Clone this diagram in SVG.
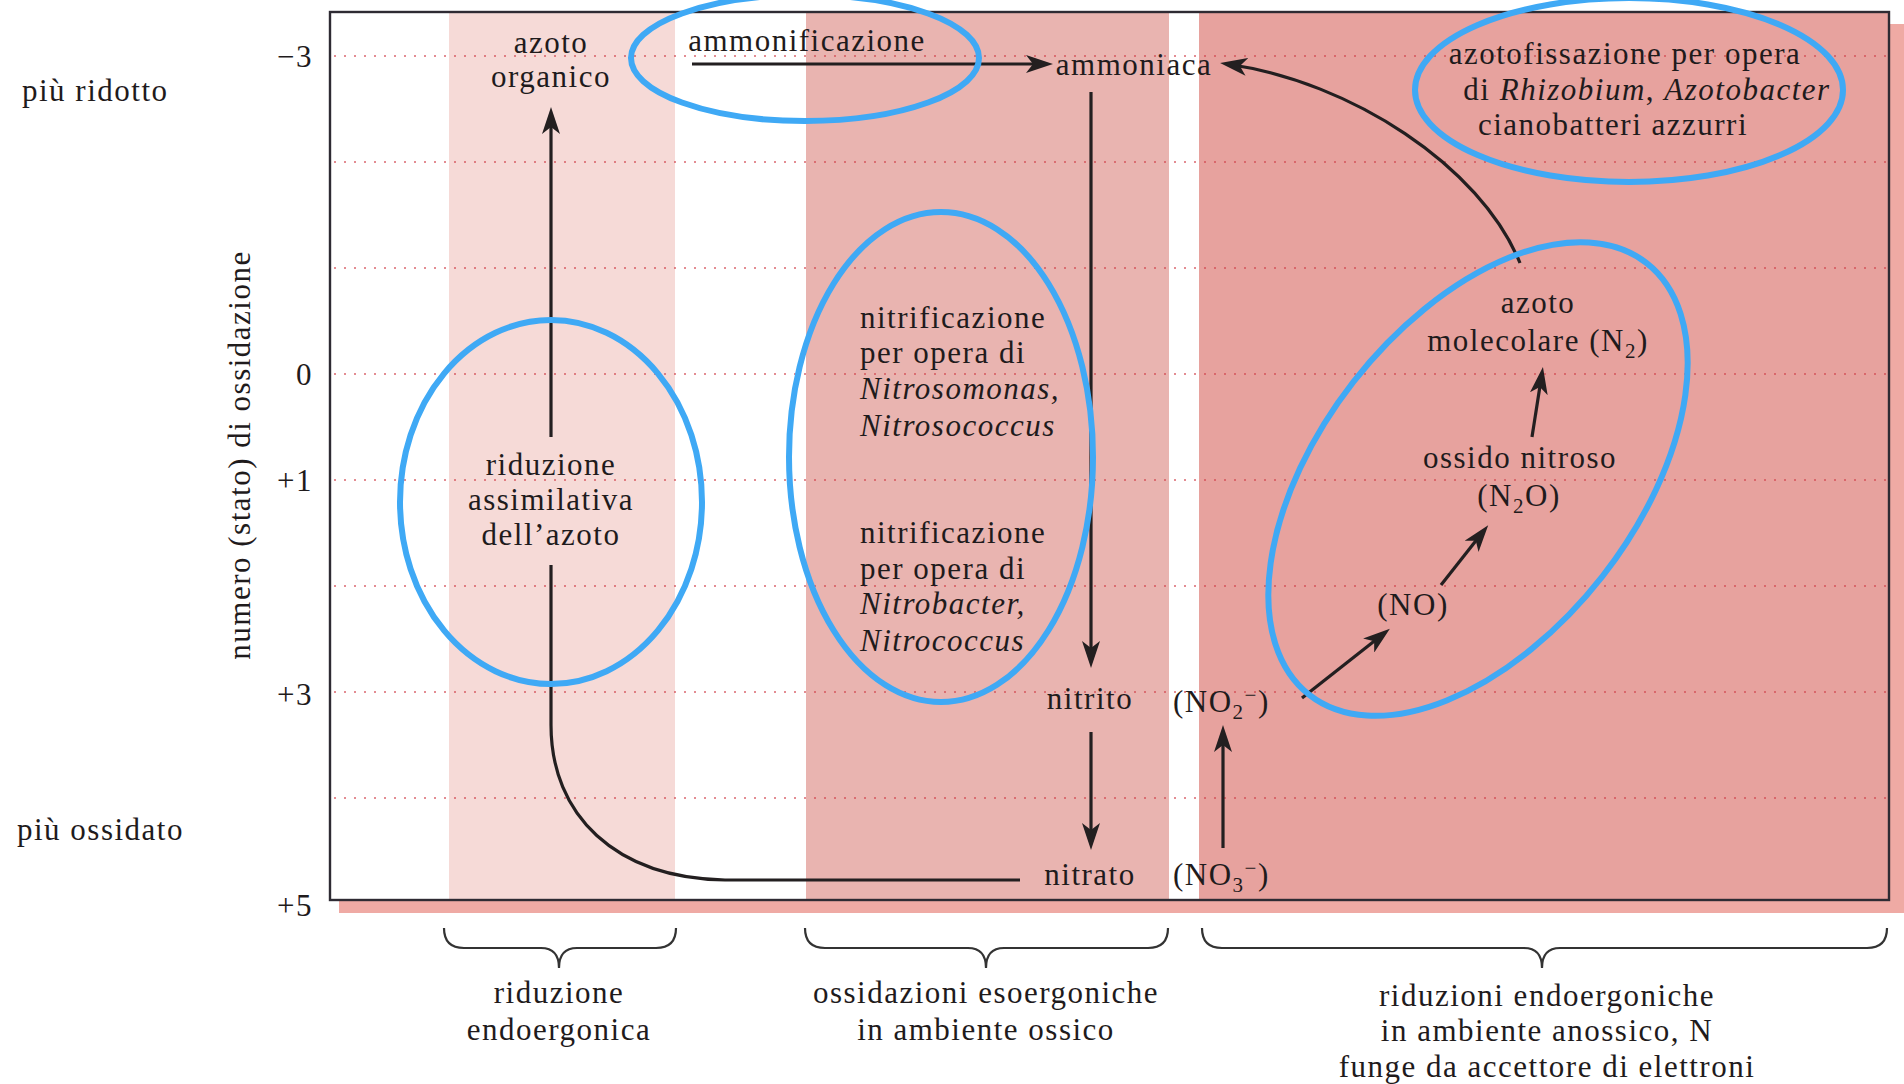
<svg xmlns="http://www.w3.org/2000/svg" width="1904" height="1084" viewBox="0 0 1904 1084">
  <defs>
    <style>
      text { font-family: "Liberation Serif", "Times New Roman", serif; font-size: 31px; letter-spacing: 1.5px; fill: #1f1b1c; }
      .c { text-anchor: middle; }
      .e { text-anchor: end; }
      .it { font-style: italic; }
      .sub { font-size: 21px; }
      .grid { stroke: #d0404a; stroke-width: 2; stroke-dasharray: 2 8; opacity: 0.6; fill: none; }
      .flow { stroke: #231f20; stroke-width: 3.2; fill: none; }
      .brace { stroke: #333; stroke-width: 2.2; fill: none; }
      .ring { stroke: #3fa9f5; stroke-width: 6; fill: none; }
    </style>
    <marker id="head" viewBox="0 0 27 18" refX="17" refY="9" markerWidth="27" markerHeight="18" markerUnits="userSpaceOnUse" orient="auto">
      <path d="M0,0 L27,9 L0,18 L7,9 Z" fill="#231f20"/>
    </marker>
  </defs>

  <rect width="1904" height="1084" fill="#ffffff"/>

  <!-- panel shadow -->
  <rect x="339" y="24" width="1565" height="889" fill="#efaaa4"/>
  <rect x="330" y="12" width="1559" height="888" fill="#ffffff"/>

  <!-- background bands -->
  <g id="bands">
    <rect x="449" y="12" width="226" height="888" fill="#f6dad7"/>
    <rect x="806" y="12" width="363" height="888" fill="#e9b4b0"/>
    <rect x="1199" y="12" width="690" height="888" fill="#e7a29e"/>
  </g>

  <!-- oxidation state grid -->
  <g id="grid">
    <line class="grid" x1="334" y1="56" x2="1886" y2="56"/>
    <line class="grid" x1="334" y1="162" x2="1886" y2="162"/>
    <line class="grid" x1="334" y1="268" x2="1886" y2="268"/>
    <line class="grid" x1="334" y1="374" x2="1886" y2="374"/>
    <line class="grid" x1="334" y1="480" x2="1886" y2="480"/>
    <line class="grid" x1="334" y1="586" x2="1886" y2="586"/>
    <line class="grid" x1="334" y1="692" x2="1886" y2="692"/>
    <line class="grid" x1="334" y1="798" x2="1886" y2="798"/>
  </g>

  <!-- frame -->
  <rect x="330" y="12" width="1559" height="888" fill="none" stroke="#2e2b33" stroke-width="2.4"/>

  <!-- axis -->
  <g id="axis">
    <text class="e" x="313" y="67">−3</text>
    <text class="e" x="313" y="385">0</text>
    <text class="e" x="313" y="491">+1</text>
    <text class="e" x="313" y="705">+3</text>
    <text class="e" x="313" y="916">+5</text>
    <text x="22" y="101">più ridotto</text>
    <text x="17" y="840">più ossidato</text>
    <text class="c" transform="translate(250,455) rotate(-90)">numero (stato) di ossidazione</text>
  </g>

  <!-- connectors -->
  <g id="connectors">
    <path class="flow" d="M551 437 V117" marker-end="url(#head)"/>
    <path class="flow" d="M551 565 V725 C551 815 615 878 725 880 H1020"/>
    <path class="flow" d="M692 64 H1043" marker-end="url(#head)"/>
    <path class="flow" d="M1091 92 V658" marker-end="url(#head)"/>
    <path class="flow" d="M1091 732 V840" marker-end="url(#head)"/>
    <path class="flow" d="M1223 848 V735" marker-end="url(#head)"/>
    <path class="flow" d="M1302 698 L1382 635" marker-end="url(#head)"/>
    <path class="flow" d="M1441 585 L1482 533" marker-end="url(#head)"/>
    <path class="flow" d="M1532 437 L1541.4 377" marker-end="url(#head)"/>
    <path class="flow" d="M1520 263 C1480 165 1350 82 1230 64.5" marker-end="url(#head)"/>
  </g>

  <!-- nodes -->
  <g id="organic-n">
    <text class="c" x="551" y="53">azoto</text>
    <text class="c" x="551" y="87">organico</text>
  </g>
  <g id="ammonification">
    <text class="c" x="807" y="51">ammonificazione</text>
  </g>
  <g id="ammonia">
    <text class="c" x="1134" y="75">ammoniaca</text>
  </g>
  <g id="fixation">
    <text class="c" x="1625" y="64">azotofissazione per opera</text>
    <text class="c" x="1647" y="100">di <tspan class="it">Rhizobium</tspan>, <tspan class="it">Azotobacter</tspan></text>
    <text class="c" x="1613" y="135">cianobatteri azzurri</text>
  </g>
  <g id="nitrosation">
    <text x="860" y="328">nitrificazione</text>
    <text x="860" y="363">per opera di</text>
    <text class="it" x="860" y="399">Nitrosomonas,</text>
    <text class="it" x="860" y="436">Nitrosococcus</text>
  </g>
  <g id="nitratation">
    <text x="860" y="543">nitrificazione</text>
    <text x="860" y="579">per opera di</text>
    <text class="it" x="860" y="614">Nitrobacter,</text>
    <text class="it" x="860" y="651">Nitrococcus</text>
  </g>
  <g id="assimilation">
    <text class="c" x="551" y="475">riduzione</text>
    <text class="c" x="551" y="510">assimilativa</text>
    <text class="c" x="551" y="545">dell’azoto</text>
  </g>
  <g id="nitrite">
    <text class="c" x="1090" y="709">nitrito</text>
    <text x="1173" y="712">(NO<tspan class="sub" dy="7">2</tspan><tspan class="sub" dy="-17">−</tspan><tspan dy="10">)</tspan></text>
  </g>
  <g id="nitrate">
    <text class="c" x="1090" y="885">nitrato</text>
    <text x="1173" y="885">(NO<tspan class="sub" dy="7">3</tspan><tspan class="sub" dy="-17">−</tspan><tspan dy="10">)</tspan></text>
  </g>
  <g id="dinitrogen">
    <text class="c" x="1538" y="313">azoto</text>
    <text class="c" x="1538" y="351">molecolare (N<tspan class="sub" dy="7">2</tspan><tspan dy="-7">)</tspan></text>
  </g>
  <g id="nitrous-oxide">
    <text class="c" x="1520" y="468">ossido nitroso</text>
    <text class="c" x="1519" y="506">(N<tspan class="sub" dy="7">2</tspan><tspan dy="-7">O)</tspan></text>
  </g>
  <g id="nitric-oxide">
    <text class="c" x="1413" y="615">(NO)</text>
  </g>

  <!-- highlight rings -->
  <g id="rings">
    <ellipse class="ring" cx="805" cy="58" rx="174" ry="63"/>
    <ellipse class="ring" cx="1629" cy="90" rx="214" ry="92"/>
    <ellipse class="ring" cx="551" cy="502" rx="151" ry="182"/>
    <ellipse class="ring" cx="941" cy="457" rx="152" ry="245"/>
    <ellipse class="ring" cx="1478" cy="479" rx="274" ry="158" transform="rotate(-52 1478 479)"/>
  </g>

  <!-- process groups -->
  <g id="group-reduction">
    <path class="brace" d="M444 928 Q444 948 464 948 H541 Q559 948 559 968 Q559 948 577 948 H656 Q676 948 676 928"/>
    <text class="c" x="559" y="1003">riduzione</text>
    <text class="c" x="559" y="1040">endoergonica</text>
  </g>
  <g id="group-oxidation">
    <path class="brace" d="M805 928 Q805 948 825 948 H968 Q986 948 986 968 Q986 948 1004 948 H1148 Q1168 948 1168 928"/>
    <text class="c" x="986" y="1003">ossidazioni esoergoniche</text>
    <text class="c" x="986" y="1040">in ambiente ossico</text>
  </g>
  <g id="group-anoxic">
    <path class="brace" d="M1202 928 Q1202 948 1222 948 H1524 Q1542 948 1542 968 Q1542 948 1560 948 H1867 Q1887 948 1887 928"/>
    <text class="c" x="1547" y="1006">riduzioni endoergoniche</text>
    <text class="c" x="1547" y="1041">in ambiente anossico, N</text>
    <text class="c" x="1547" y="1077">funge da accettore di elettroni</text>
  </g>
</svg>
